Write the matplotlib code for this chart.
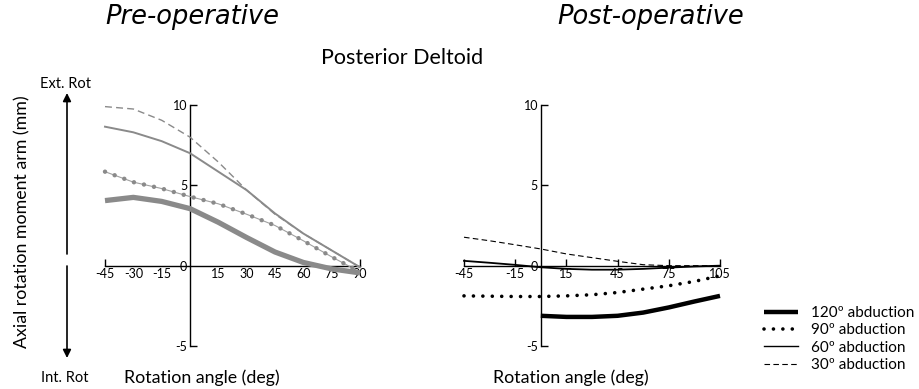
import numpy as np
import matplotlib
matplotlib.use("Agg")
import matplotlib.pyplot as plt
from matplotlib.lines import Line2D

# ─── Data ────────────────────────────────────────────────────────
pre_angles = [-45, -30, -15, 0, 15, 30, 45, 60, 75, 90]
pre_120 = [4.05, 4.25, 4.0, 3.55, 2.7, 1.75, 0.85, 0.2, -0.2, -0.45]
pre_90 = [5.85, 5.2, 4.8, 4.3, 3.85, 3.2, 2.5, 1.55, 0.55, -0.4]
pre_60 = [8.65, 8.3, 7.75, 7.0, 5.85, 4.7, 3.25, 2.0, 0.95, -0.1]
pre_30 = [9.9, 9.75, 9.05, 8.0, 6.45, 4.7, 3.2, 2.0, 0.95, -0.1]

post_angles = [-45, -30, -15, 0, 15, 30, 45, 60, 75, 90, 105]
post_120_angles = [0, 15, 30, 45, 60, 75, 90, 105]
post_120 = [-3.12, -3.19, -3.19, -3.12, -2.92, -2.6, -2.23, -1.88]
post_90 = [-1.88, -1.9, -1.92, -1.92, -1.88, -1.81, -1.67, -1.46, -1.25, -0.98, -0.63]
post_60 = [0.3, 0.18, 0.05, -0.1, -0.2, -0.25, -0.25, -0.2, -0.12, -0.05, 0.0]
post_30 = [1.77, 1.55, 1.3, 1.04, 0.73, 0.5, 0.27, 0.06, 0.0, 0.0, 0.0]

pre_xticks = [-45, -30, -15, 15, 30, 45, 60, 75, 90]
post_xticks = [-45, -15, 15, 45, 75, 105]
yticks = [-5, 0, 5, 10]
legend_labels = ["120º abduction", "90º abduction", "60º abduction", "30º abduction"]

# ─── Styles ──────────────────────────────────────────────────────
W, H = 919, 389
LABEL_FONT = "Lato"
GRAY = "#8a8a8a"
DASH = (0, (5, 3))


def fx(px):
    return px / W


def fy(py):
    return 1 - py / H


def style_axes(ax, xlim, xticks, end_ticks_only=False):
    ax.set_xlim(*xlim)
    ax.set_ylim(-5, 10)
    ax.patch.set_visible(False)
    for side in ("top", "right"):
        ax.spines[side].set_visible(False)
    ax.spines["left"].set_position(("data", 0))
    ax.spines["bottom"].set_position(("data", 0))
    for side in ("left", "bottom"):
        ax.spines[side].set_linewidth(1.0)
        ax.spines[side].set_zorder(1)
    ax.set_xticks(xticks)
    ax.set_xticklabels([str(t) for t in xticks])
    ax.set_yticks(yticks)
    ax.set_yticklabels([str(t) for t in yticks])
    ax.tick_params(axis="x", direction="in", length=5, width=1.0, pad=2,
                   labelsize=9)
    ax.tick_params(axis="y", direction="in", length=5, width=1.0, pad=2,
                   labelsize=9)
    for lab in ax.get_xticklabels() + ax.get_yticklabels():
        lab.set_family(LABEL_FONT)
    ax.yaxis.get_major_ticks()[1].tick1line.set_visible(False)
    if end_ticks_only:
        ticks = ax.xaxis.get_major_ticks()
        for t in ticks[1:-1]:
            t.tick1line.set_visible(False)


fig = plt.figure(figsize=(W / 100, H / 100), dpi=100)

ax_top, ax_bot = 105, 346
ax1 = fig.add_axes([fx(105), fy(ax_bot), fx(360 - 105), (ax_bot - ax_top) / H])
ax2 = fig.add_axes([fx(464), fy(ax_bot), fx(720 - 464), (ax_bot - ax_top) / H])

# ─── Pre-operative (gray) ────────────────────────────────────────
ax1.plot(pre_angles, pre_30, color=GRAY, lw=1.0, ls=DASH, clip_on=False)
ax1.plot(pre_angles, pre_60, color=GRAY, lw=1.4, clip_on=False)
ax1.plot(pre_angles, pre_90, color="#a0a0a0", lw=0.8, clip_on=False)
ax1.plot(pre_angles, pre_90, color=GRAY, lw=3.2, ls=(0, (0.01, 2.3)),
         dash_capstyle="round", clip_on=False)
ax1.plot(pre_angles, pre_120, color=GRAY, lw=3.8, solid_capstyle="butt",
         clip_on=False)
style_axes(ax1, (-45, 90), pre_xticks, end_ticks_only=True)

# ─── Post-operative (black) ──────────────────────────────────────
ax2.plot(post_angles, post_30, color="black", lw=0.8, ls=DASH, clip_on=False)
ax2.plot(post_angles, post_60, color="black", lw=1.3, clip_on=False)
ax2.plot(post_angles, post_90, color="black", lw=2.6, ls=(0, (0.01, 2.6)),
         dash_capstyle="round", clip_on=False)
ax2.plot(post_120_angles, post_120, color="black", lw=3.2,
         solid_capstyle="butt", clip_on=False)
style_axes(ax2, (-45, 105), post_xticks)

# ─── Titles and labels ───────────────────────────────────────────
fig.text(fx(192), fy(17), "Pre-operative", ha="center", va="center",
         fontsize=18.5, style="italic", family="DejaVu Sans")
fig.text(fx(651), fy(17), "Post-operative", ha="center", va="center",
         fontsize=18.5, style="italic", family="DejaVu Sans")
fig.text(fx(402), fy(58), "Posterior Deltoid", ha="center", va="center",
         fontsize=15.5, family=LABEL_FONT)
fig.text(fx(202), fy(378), "Rotation angle (deg)", ha="center", va="center",
         fontsize=12.8, family=LABEL_FONT)
fig.text(fx(571), fy(378), "Rotation angle (deg)", ha="center", va="center",
         fontsize=12.8, family=LABEL_FONT)
fig.text(fx(22), fy(222), "Axial rotation moment arm (mm)", ha="center",
         va="center", rotation=90, fontsize=12.8, family=LABEL_FONT)
fig.text(fx(65), fy(84), "Ext. Rot", ha="center", va="center",
         fontsize=10.5, family=LABEL_FONT)
fig.text(fx(65), fy(378), "Int. Rot", ha="center", va="center",
         fontsize=10.5, family=LABEL_FONT)

arrow_kw = dict(arrowstyle="-|>", color="black", lw=1.2, mutation_scale=12,
                shrinkA=0, shrinkB=0)
fig.add_artist(matplotlib.patches.FancyArrowPatch(
    (fx(67), fy(254)), (fx(67), fy(93)), transform=fig.transFigure, **arrow_kw))
fig.add_artist(matplotlib.patches.FancyArrowPatch(
    (fx(67), fy(266)), (fx(67), fy(358)), transform=fig.transFigure, **arrow_kw))

# ─── Legend ──────────────────────────────────────────────────────
handles = [
    Line2D([], [], color="black", lw=3.2, solid_capstyle="butt"),
    Line2D([], [], color="black", lw=2.6, ls=(0, (0.01, 2.6)),
           dash_capstyle="round"),
    Line2D([], [], color="black", lw=1.0),
    Line2D([], [], color="black", lw=0.8, ls=DASH),
]
fig.legend(handles, legend_labels, loc="upper left",
           bbox_to_anchor=(fx(764), fy(306)), frameon=False,
           prop={"family": LABEL_FONT, "size": 11}, handlelength=2.2,
           handletextpad=0.85, labelspacing=0.22, borderaxespad=0,
           borderpad=0)

fig.savefig("out.png", dpi=100)
